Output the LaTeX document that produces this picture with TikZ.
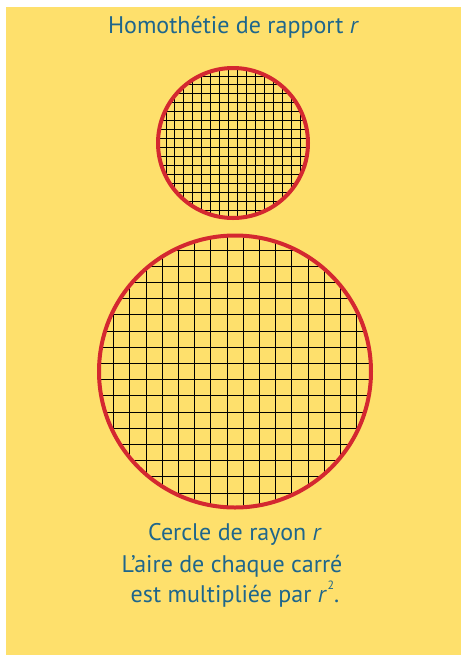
\documentclass[tikz,border=0pt]{standalone}
\usepackage{fontspec}
\setmainfont{PT Sans}
\usepackage{tikz}

\definecolor{jaune}{RGB}{254,224,108}
\definecolor{rouge}{RGB}{212,40,48}
\definecolor{bleu}{RGB}{30,102,140}

\tikzset{
  quad/.style={black, line width=0.8pt},
  cercle/.style={rouge, line width=4pt},
  legende/.style={bleu, anchor=base, inner sep=0pt, font=\fontsize{24}{30}\selectfont}
}

\begin{document}
\begin{tikzpicture}[x=1pt, y=-1pt]
  \useasboundingbox (0,0) rectangle (461,657);
  \fill[jaune] (6,7) rectangle (461,655);

  % petit cercle
  \begin{scope}[shift={(233,143)}, scale=0.552]
    \clip (0,0) circle (136);
    \foreach \k in {-9,...,8} {
      \draw[quad] ({(\k+0.5)*16.2},-140) -- ++(0,280);
      \draw[quad] (-140,{(\k+0.5)*16.2}) -- ++(280,0);
    }
  \end{scope}
  \draw[cercle] (233,143) circle (75);

  % grand cercle
  \begin{scope}[shift={(235,371.5)}]
    \clip (0,0) circle (136);
    \foreach \k in {-9,...,8} {
      \draw[quad] ({(\k+0.5)*16.2},-140) -- ++(0,280);
      \draw[quad] (-140,{(\k+0.5)*16.2}) -- ++(280,0);
    }
  \end{scope}
  \draw[cercle] (235,371.5) circle (136);

  \node[legende] (titre) at (233.5,33) {Homothétie de rapport \textit{r}};
  \node[legende] (ligneA) at (235,540) {Cercle de rayon \textit{r}};
  \node[legende] (ligneB) at (232,572) {L’aire de chaque carré};
  \node[legende] (ligneC) at (235,602) {est multipliée par \textit{r}\kern0.5pt\raisebox{0.52em}{\fontsize{12}{12}\selectfont 2}.};
\end{tikzpicture}
\end{document}
